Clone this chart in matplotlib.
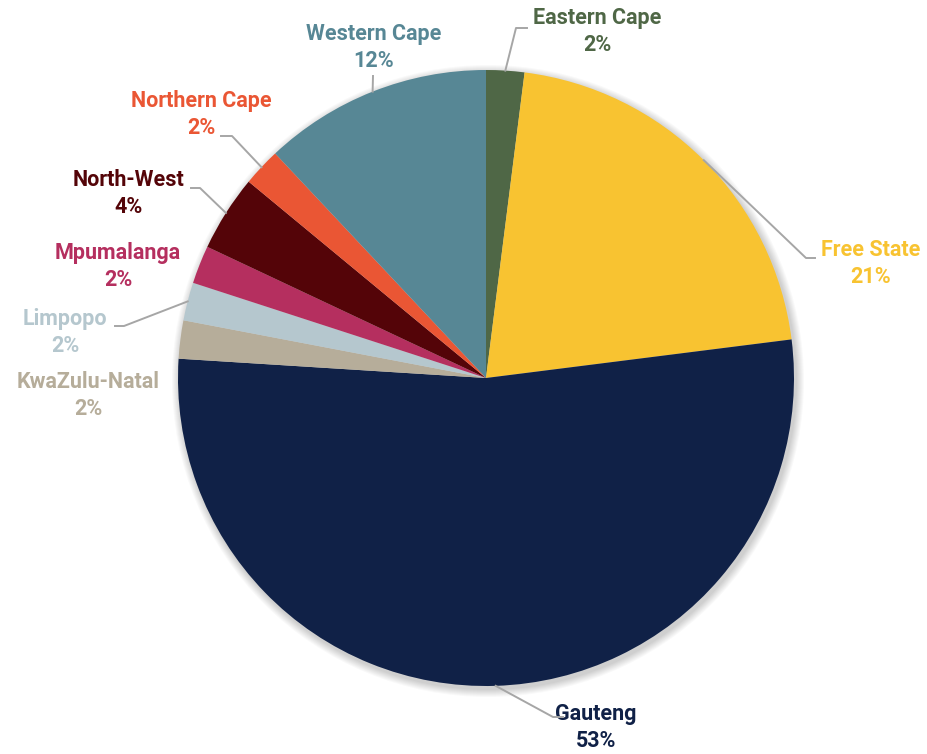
import numpy as np
import matplotlib.pyplot as plt
from matplotlib.patches import Circle

plt.rcParams['font.family'] = ['Roboto', 'DejaVu Sans']

provinces = ['Eastern Cape', 'Free State', 'Gauteng', 'KwaZulu-Natal', 'Limpopo',
             'Mpumalanga', 'North-West', 'Northern Cape', 'Western Cape']
shares = [2, 21, 53, 2, 2, 2, 4, 2, 12]
colors = ['#4f6746', '#f8c331', '#102147', '#b6ad9a', '#b5c7ce',
          '#b52f5f', '#540408', '#ea5634', '#578795']

# label centre (x, y of first line) and leader elbow, in pixel coords (y down)
label_pos = {
    'Eastern Cape': (597, 18), 'Free State': (871, 250), 'Gauteng': (596, 714),
    'KwaZulu-Natal': (88, 382), 'Limpopo': (65, 319), 'Mpumalanga': (118, 253),
    'North-West': (129, 180), 'Northern Cape': (201, 101), 'Western Cape': (374, 34),
}
elbows = {
    'Eastern Cape': [(516, 28), (527, 28)],
    'Free State': [(806, 258), (815, 258)],
    'Gauteng': [(553, 717), (563, 717)],
    'Limpopo': [(124, 326), (115, 326)],
    'North-West': [(200, 188), (191, 188)],
    'Northern Cape': [(232, 136), (221, 136)],
    'Western Cape': [(373, 76)],
}

W, H = 928, 754
cx, cy, R = 486, 376, 308

fig = plt.figure(figsize=(W / 100, H / 100), dpi=100)
ax = fig.add_axes([0, 0, 1, 1])
ax.set_aspect('equal')

# soft drop shadow behind the pie
for i in range(8):
    ax.add_patch(Circle((cx + 2, cy - 3), R + 1 + i, color='black',
                        alpha=0.025, lw=0, zorder=0))

wedges, _ = ax.pie(shares, colors=colors, startangle=90, counterclock=False,
                   center=(cx, cy), radius=R, frame=True,
                   wedgeprops=dict(linewidth=0))
ax.set_xlim(0, W)
ax.set_ylim(0, H)
ax.axis('off')

for w, name, val, col in zip(wedges, provinces, shares, colors):
    lx, ly = label_pos[name]
    ax.text(lx, H - ly, name, color=col, fontsize=15.5, fontweight='bold',
            ha='center', va='center')
    ax.text(lx, H - ly - 27, f'{val}%', color=col, fontsize=15.5, fontweight='bold',
            ha='center', va='center')
    if name in elbows:
        mid = np.deg2rad((w.theta1 + w.theta2) / 2)
        pts = [(cx + R * np.cos(mid), cy + R * np.sin(mid))]
        pts += [(x, H - y) for x, y in elbows[name]]
        xs, ys = zip(*pts)
        ax.plot(xs, ys, color='#a6a6a6', lw=1.4, zorder=3)

fig.savefig('out.png', dpi=100)
